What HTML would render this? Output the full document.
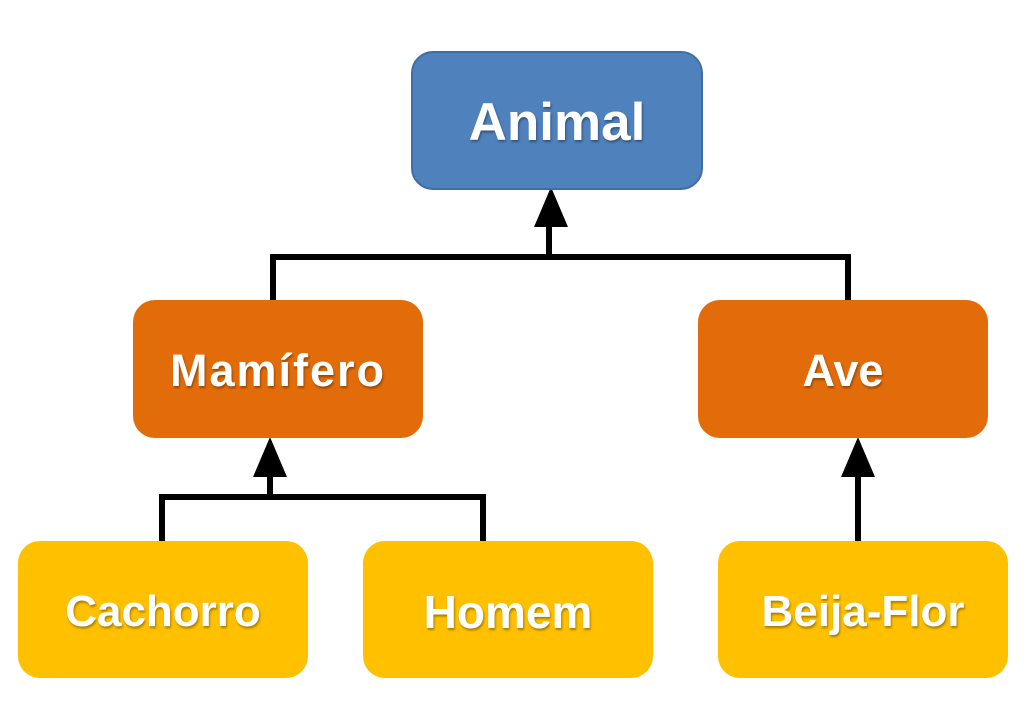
<!DOCTYPE html>
<html><head><style>
body{margin:0;width:1033px;height:709px;background:#fff;position:relative;overflow:hidden;font-family:"Liberation Sans",sans-serif}
.b{position:absolute;border-radius:22px;color:#fff;font-weight:bold;display:flex;align-items:center;justify-content:center;text-shadow:1px 2px 2px rgba(0,0,0,.35);box-sizing:border-box;padding-top:4px}
.blue{background:#4f81bd;border:2px solid #3f6ea6;font-size:53px}
.or{background:#e36c0a;font-size:45px}
.ye{background:#ffc000;font-size:44px}
</style></head><body>
<svg width="1033" height="709" style="position:absolute;left:0;top:0">
<g stroke="#000" stroke-width="6" fill="none">
<path d="M273 300V257H848V300M549 257V222"/>
<path d="M162 541V497H483V541M270 497V472"/>
<path d="M858 541V472"/>
</g>
<g fill="#000">
<polygon points="551,187 534,227 568,227"/>
<polygon points="270,437 253,477 287,477"/>
<polygon points="858,437 841,477 875,477"/>
</g>
</svg>
<div class="b blue" style="left:411px;top:51px;width:292px;height:139px">Animal</div>
<div class="b or" style="left:133px;top:300px;width:290px;height:138px;letter-spacing:2px">Mamífero</div>
<div class="b or" style="left:698px;top:300px;width:290px;height:138px">Ave</div>
<div class="b ye" style="left:18px;top:541px;width:290px;height:137px">Cachorro</div>
<div class="b ye" style="left:363px;top:541px;width:290px;height:137px;font-size:46px">Homem</div>
<div class="b ye" style="left:718px;top:541px;width:290px;height:137px">Beija-Flor</div>
</body></html>
